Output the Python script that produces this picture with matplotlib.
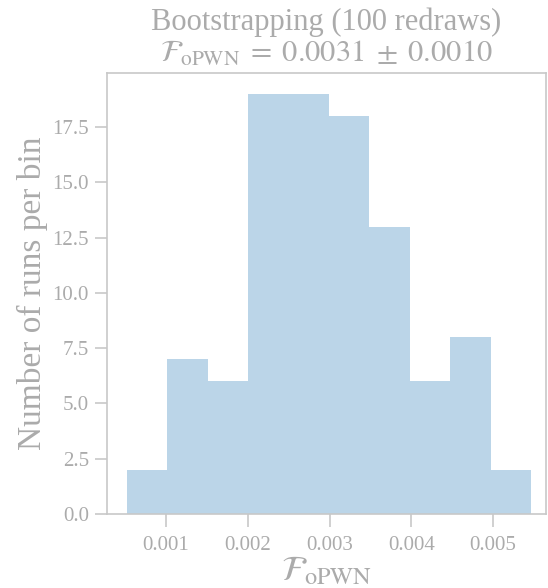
import numpy as np
import matplotlib
matplotlib.use('Agg')
import matplotlib.pyplot as plt

# Histogram of bootstrap redraws
bin_edges = np.linspace(0.000523, 0.005465, 11)
counts = [2, 7, 6, 19, 19, 18, 13, 6, 8, 2]
x_ticks = [0.001, 0.002, 0.003, 0.004, 0.005]
y_ticks = [0.0, 2.5, 5.0, 7.5, 10.0, 12.5, 15.0, 17.5]

plt.rcParams['font.family'] = ['Liberation Serif', 'DejaVu Serif']
plt.rcParams['mathtext.fontset'] = 'stix'

text_col = '#ababab'
spine_col = '#c8c8c8'

W, H = 548, 588
fig = plt.figure(figsize=(W / 100, H / 100), dpi=100)
ax = fig.add_axes([107/W, 1 - 514/H, (546-107)/W, (514-73)/H])

centers = 0.5 * (bin_edges[:-1] + bin_edges[1:])
ax.hist(centers, bins=bin_edges, weights=counts, color='#1f77b4', alpha=0.3)
ax.set_xlim(0.000278, 0.005648)
ax.set_ylim(0, 19.95)

ax.set_xticks(x_ticks)
ax.set_xticklabels(['%.3f' % t for t in x_ticks])
ax.set_yticks(y_ticks)
ax.set_yticklabels(['%.1f' % t for t in y_ticks])
ax.tick_params(colors=spine_col, labelcolor=text_col, labelsize=15, length=9, width=1.2, pad=4)
ax.tick_params(axis='x', pad=7)
for s in ax.spines.values():
    s.set_color(spine_col)
    s.set_linewidth(1.2)

ax.set_xlabel(r'$\mathcal{F}_{\rm oPWN}$', fontsize=25, color=text_col, labelpad=0)
ax.set_ylabel('Number of runs per bin', fontsize=24, color=text_col, labelpad=3)

# two-line title
cx = (107 + 546) / 2 / W
fig.text(cx, 1 - 30/H, 'Bootstrapping (100 redraws)', fontsize=22, color=text_col,
         ha='center', va='baseline')
fig.text(cx, 1 - 62/H, r'$\mathcal{F}_{\rm oPWN}\;=\;0.0031\;\pm\;0.0010$', fontsize=22,
         color=text_col, ha='center', va='baseline')

fig.savefig('out.png', dpi=100)
